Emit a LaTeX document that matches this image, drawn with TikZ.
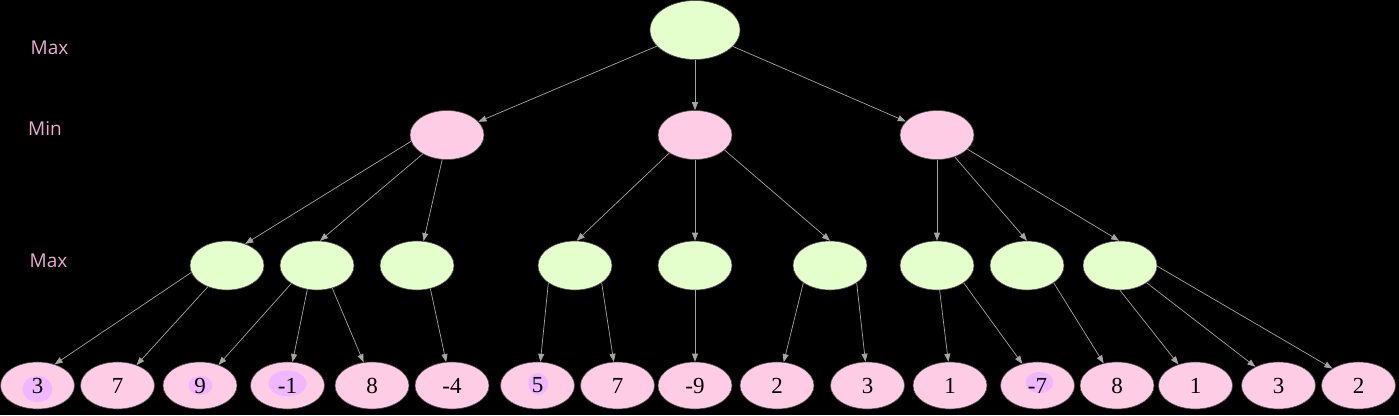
\documentclass[tikz,border=0pt]{standalone}
\usepackage{fontspec}
\setmainfont{Liberation Serif}
\newfontfamily\levelfont{Open Sans}
\usetikzlibrary{shapes.geometric,arrows.meta}
\definecolor{pk}{RGB}{255,204,229}
\definecolor{gn}{RGB}{229,255,204}
\definecolor{eg}{RGB}{165,165,165}
\definecolor{lb}{RGB}{238,170,210}
\definecolor{hl}{RGB}{240,182,255}
\begin{document}
\begin{tikzpicture}[x=1pt,y=-1pt]
  \tikzset{ nd/.style={ellipse,draw=black!70,line width=0.6pt,inner sep=0pt,minimum width=74pt,minimum height=49pt,font=\fontsize{23}{23}\selectfont},
    mx/.style={nd,fill=gn},
    mn/.style={nd,fill=pk},
    lf/.style={nd,fill=pk,minimum height=47pt},
    hi/.style n args={4}{path picture={\fill[hl] ([xshift=#1,yshift=#2]path picture bounding box.center) ellipse (#3 and #4);}},
    lvl/.style={text=lb,inner sep=0pt,font=\levelfont\fontsize{19}{22}\selectfont},
    e/.style={draw=eg,line width=0.7pt,-{Triangle[length=8pt,width=6pt]}},
  }
  \fill[black] (0,0) rectangle (1399,415);
  \useasboundingbox (0,0) rectangle (1399,415);
  % the levels
  \node[lvl] (tMax) at (49.5,48) {Max};
  \node[lvl] (tMin) at (45,129) {Min};
  \node[lvl] (bMax) at (48.5,261) {Max};
  % the root
  \node[mx,minimum width=90pt,minimum height=59pt] (r) at (695,30) {};
  % the min nodes
  \node[mn] (nA) at (447,135) {};
  \node[mn] (nB) at (695,135) {};
  \node[mn] (nC) at (937,135) {};
  % the max nodes
  \node[mx] (xA) at (227,265.5) {};
  \node[mx] (xB) at (317,265.5) {};
  \node[mx] (xC) at (417,265.5) {};
  \node[mx] (xD) at (575,265.5) {};
  \node[mx] (xE) at (695,265.5) {};
  \node[mx] (xF) at (830,265.5) {};
  \node[mx] (xG) at (937,265.5) {};
  \node[mx] (xH) at (1027,265.5) {};
  \node[mx] (xI) at (1120,265.5) {};
  % the leaves
  \node[lf,hi={0pt}{-3.5pt}{15pt}{13pt}] (l1) at (37.5,385.5) {3};
  \node[lf] (l2) at (117.5,385.5) {7};
  \node[lf,hi={0.5pt}{0pt}{12pt}{9.5pt}] (l3) at (200,385.5) {9};
  \node[lf,hi={0pt}{2pt}{19pt}{13pt}] (l4) at (287.5,385.5) {-1};
  \node[lf] (l5) at (372,385.5) {8};
  \node[lf] (l6) at (452,385.5) {-4};
  \node[lf,hi={0.5pt}{1.5pt}{10pt}{11pt}] (l7) at (537.5,385.5) {5};
  \node[lf] (l8) at (617.5,385.5) {7};
  \node[lf] (l9) at (695,385.5) {-9};
  \node[lf] (l10) at (777,385.5) {2};
  \node[lf] (l11) at (867.5,385.5) {3};
  \node[lf] (l12) at (950,385.5) {1};
  \node[lf,hi={2pt}{3pt}{14pt}{10.5pt}] (l13) at (1037.5,385.5) {-7};
  \node[lf] (l14) at (1117,385.5) {8};
  \node[lf] (l15) at (1195.5,385.5) {1};
  \node[lf] (l16) at (1278.5,385.5) {3};
  \node[lf] (l17) at (1358.5,385.5) {2};
  % root to min
  \draw[e] (r) -- (nA);
  \draw[e] (r) -- (nB);
  \draw[e] (r) -- (nC);
  % min to max
  \draw[e] (nA.190) -- (xA.50);
  \draw[e] (nA.218) -- (xB.83);
  \draw[e] (nA.259) -- (xC.75);
  \draw[e] (nB.215) -- (xD.86);
  \draw[e] (nB) -- (xE);
  \draw[e] (nB.333) -- (xF.north);
  \draw[e] (nC.south) -- (xG.north);
  \draw[e] (nC.309) -- (xH.north);
  \draw[e] (nC.335) -- (xI.92);
  % max to leaves
  \draw[e] (xA.191) -- (l1.51);
  \draw[e] (xA.228) -- (l2.47);
  \draw[e] (xB.215) -- (l3.48);
  \draw[e] (xB.248) -- (l4.78);
  \draw[e] (xB.304) -- (l5.110);
  \draw[e] (xC.300) -- (l6.104);
  \draw[e] (xD.213) -- (l7.83);
  \draw[e] (xD.327) -- (l8.99);
  \draw[e] (xE) -- (l9);
  \draw[e] (xF.213) -- (l10.74);
  \draw[e] (xF.327) -- (l11.95);
  \draw[e] (xG.276) -- (l12.94);
  \draw[e] (xG.327) -- (l13.125);
  \draw[e] (xH.327) -- (l14.121);
  \draw[e] (xI.south) -- (l15.129);
  \draw[e] (xI.327) -- (l16.141);
  \draw[e] (xI.359) -- (l17.147);
\end{tikzpicture}
\end{document}
